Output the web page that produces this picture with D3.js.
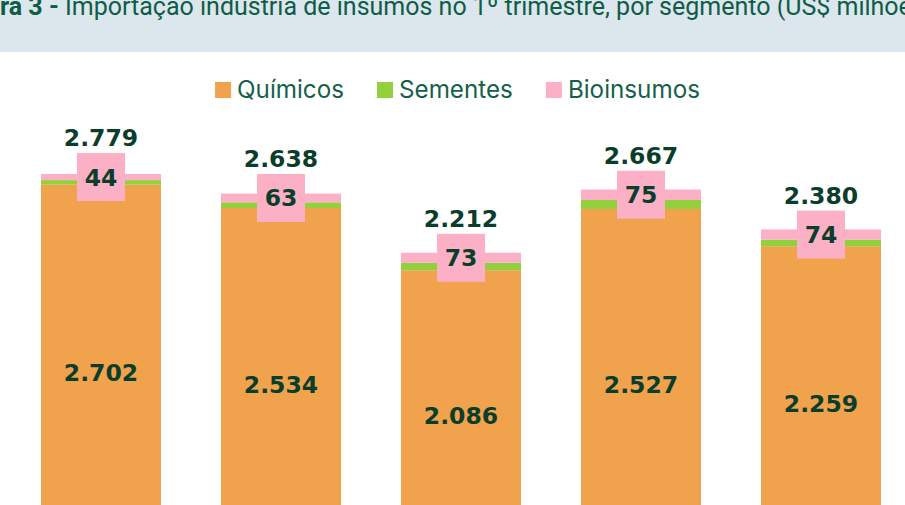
<!DOCTYPE html>
<html><head><meta charset="utf-8">
<script src="https://cdn.jsdelivr.net/npm/d3@7"></script>
<style>html,body{margin:0;padding:0;background:#fff;overflow:hidden}</style>
</head><body>
<svg id="c" width="905" height="505"></svg>
<script>
const categories = ["2020", "2021", "2022", "2023", "2024"];
const quimicos   = [2702, 2534, 2086, 2527, 2259];
const sementes   = [33, 41, 53, 65, 47];
const bioinsumos = [44, 63, 73, 75, 74];
const totals     = [2779, 2638, 2212, 2667, 2380];
const seriesNames = ["Químicos", "Sementes", "Bioinsumos"];
const colors = ["#f0a24c", "#92d13d", "#fbb0c6"];
const titleBold = "Figura 3 - ";
const titleRest = "Importação indústria de insumos no 1º trimestre, por segmento (US$ milhões)";

const fmt = v => d3.format(",")(v).replace(/,/g, ".");
const svg = d3.select("#c");

// measuring helper
function measure(txt, family, size, weight) {
  const t = svg.append("text").style("font-family", family).style("font-size", size + "px")
    .style("font-weight", weight || "400").text(txt);
  const w = t.node().getComputedTextLength(); t.remove(); return w;
}

// title band
svg.append("rect").attr("x",0).attr("y",0).attr("width",905).attr("height",52).attr("fill","#dce7ed");
// fit font so that visible part "ra 3 - ... milhõe" spans the width
const visW = measure("ra 3 - ", "Roboto", 24, 700) + measure("Importação indústria de insumos no 1º trimestre, por segmento (US$ milhõe", "Roboto", 24, 400);
const tfs = 24 * 906 / visW;
const title = svg.append("text").attr("y",15).attr("fill","#0f5c48")
  .style("font-family","Roboto").style("font-size", tfs + "px");
title.append("tspan").style("font-weight","700").text(titleBold);
title.append("tspan").text(titleRest);
title.attr("x", -measure("Figu", "Roboto", tfs, 700));

const data = categories.map((c,i)=>({c, q:quimicos[i], s:sementes[i], b:bioinsumos[i], t:totals[i]}));

const x = d3.scaleBand().domain(categories).range([11, 911]).paddingInner(1/3).paddingOuter(1/6);
const y = d3.scaleLinear().domain([0, 2779]).range([560, 174]);

const stack = d3.stack().keys(["q","s","b"])(data);
const g = svg.append("g");
stack.forEach((layer, li) => {
  g.selectAll(null).data(layer).join("rect")
    .attr("x", d => x(d.data.c)).attr("width", x.bandwidth())
    .attr("y", d => y(d[1])).attr("height", d => y(d[0]) - y(d[1]))
    .attr("fill", colors[li]);
});

const labelFont = "DejaVu Sans";
const lblColor = "#0b3d2b";
const lfs = 23.5;
const box = 48;
function lbl(cx, yy, txt) {
  svg.append("text").attr("x", cx).attr("y", yy).attr("text-anchor","middle")
    .attr("fill", lblColor).style("font-family", labelFont).style("font-weight","700")
    .style("font-size", lfs + "px").text(txt);
}
data.forEach((d) => {
  const cx = x(d.c) + x.bandwidth()/2;
  const pinkMid = (y(d.q + d.s) + y(d.t)) / 2;
  svg.append("rect").attr("x", cx - box/2).attr("y", pinkMid - box/2)
    .attr("width", box).attr("height", box).attr("fill", colors[2]);
  lbl(cx, pinkMid + 8.5, fmt(d.b));
  lbl(cx, pinkMid - box/2 - 7, fmt(d.t));
  lbl(cx, (y(d.q) + y(0)) / 2 + 8.5, fmt(d.q));
});

// legend
const lgs = 22 * 107 / measure("Químicos", "Inter", 22);
const leg = svg.append("g");
const items = seriesNames.map((n,i) => {
  const gi = leg.append("g");
  gi.append("rect").attr("width",16).attr("height",16).attr("y",82).attr("fill",colors[i]);
  const t = gi.append("text").attr("x",22).attr("y",97.5).attr("fill","#15604b")
    .style("font-family","Inter").style("font-size", lgs + "px").text(n);
  return {gi, w: 22 + t.node().getComputedTextLength()};
});
const gap = 33;
const totalW = d3.sum(items, d=>d.w) + gap*(items.length-1);
let lx = 457.5 - totalW/2;
items.forEach(it => { it.gi.attr("transform", `translate(${lx},0)`); lx += it.w + gap; });
</script>
</body></html>
